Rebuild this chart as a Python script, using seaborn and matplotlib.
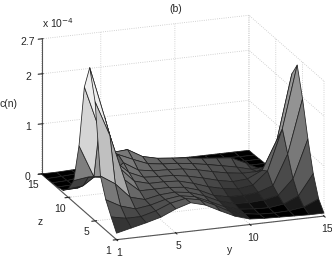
import numpy as np
import matplotlib
matplotlib.use("Agg")
import matplotlib.pyplot as plt
import seaborn as sns
from mpl_toolkits.mplot3d import proj3d

sns.set_style("white")
plt.rcParams['font.family'] = ['Liberation Sans', 'DejaVu Sans']
plt.rcParams['font.size'] = 7.5

y_vals = np.arange(1, 16)
z_vals = np.arange(1, 16)

# c(n) in units of 1e-4, one list per z, left to right along y
c_z01 = [.13, .20, .27, .35, .48, .57, .49, .34, .20, .11, .09, .08, .07, .06, .06]
c_z02 = [.36, .30, .30, .38, .50, .56, .50, .36, .20, .12, .08, .07, .08, .12, .25]
c_z03 = [.61, .45, .36, .40, .48, .52, .47, .34, .20, .12, .09, .08, .12, .25, .66]
c_z04 = [.99, .80, .50, .42, .48, .50, .46, .36, .22, .14, .12, .14, .20, .50, 1.26]
c_z05 = [2.38, 1.67, .75, .50, .50, .50, .47, .38, .24, .18, .17, .20, .30, .90, 1.97]
c_z06 = [2.97, 1.95, .90, .60, .52, .52, .50, .42, .32, .25, .21, .25, .50, 1.31, 2.55]
c_z07 = [2.49, 1.62, .95, .68, .55, .53, .52, .47, .40, .32, .26, .28, .42, 1.00, 2.28]
c_z08 = [1.22, .57, .55, .78, .60, .55, .54, .52, .47, .40, .34, .30, .30, .42, 1.09]
c_z09 = [.43, .47, .43, .85, .72, .60, .56, .54, .50, .45, .39, .33, .25, .27, .40]
c_z10 = [.17, .20, .40, .80, .82, .65, .58, .55, .52, .48, .45, .42, .28, .12, .14]
c_z11 = [.05, .06, .25, .55, .70, .50, .42, .38, .33, .30, .25, .22, .12, .04, .03]
c_z12 = [.02, .03, .10, .30, .45, .30, .22, .20, .18, .14, .10, .08, .04, .02, .02]
c_z13 = [.01, .02, .06, .15, .22, .14, .10, .08, .07, .05, .04, .03, .01, .01, .01]
c_z14 = [.00, .01, .03, .07, .10, .07, .05, .04, .03, .02, .02, .01, .01, .00, .00]
c_z15 = [.00, .00, .01, .02, .03, .02, .02, .01, .01, .01, .00, .00, .00, .00, .00]

y_ticks = [1, 5, 10, 15]
z_ticks = [1, 5, 10, 15]
c_ticks = [0, 1, 2, 2.7]
c_ticklabels = ["0", "1", "2", "2.7"]

W, H = 332, 258
C = np.array([c_z01, c_z02, c_z03, c_z04, c_z05, c_z06, c_z07, c_z08,
              c_z09, c_z10, c_z11, c_z12, c_z13, c_z14, c_z15])
Y, Z = np.meshgrid(y_vals, z_vals)

# grey per facet: height plus a light coming from the +y side
mean_c = (C[:-1, :-1] + C[1:, :-1] + C[:-1, 1:] + C[1:, 1:]) / 4
d_y = ((C[:-1, 1:] - C[:-1, :-1]) + (C[1:, 1:] - C[1:, :-1])) / 2
grey = 0.55 * np.clip(mean_c - 0.1, 0, None) ** 0.5
grey = grey - 0.25 * np.minimum(d_y, 0) - 0.1 * np.maximum(d_y, 0)
grey = np.clip(grey, 0, 0.93)
cmap = sns.color_palette("gray", as_cmap=True)
face = np.zeros(C.shape + (4,))
face[:-1, :-1] = cmap(grey)

fig = plt.figure(figsize=(W / 100, H / 100), dpi=100)
ax = fig.add_axes([0, 0, 1, 1], projection="3d", proj_type="ortho")
ax.view_init(elev=18.4, azim=-109.8)
ax.set_box_aspect((220, 221, 142))
ax.set_xlim(1, 15)
ax.set_ylim(1, 15)
ax.set_zlim(0, 2.7)

ax.plot_surface(Y, Z, C, facecolors=face, rstride=1, cstride=1, shade=False,
                edgecolor="#222222", linewidth=0.55, antialiased=True)

ax.set_xticks(y_ticks)
ax.set_yticks(z_ticks)
ax.set_zticks(c_ticks)
ax.set_zticklabels(c_ticklabels)
ax.tick_params(axis="x", pad=-3, labelsize=7.5)
ax.tick_params(axis="y", pad=-3, labelsize=7.5)
ax.tick_params(axis="z", pad=-2, labelsize=7.5)
for axis in (ax.xaxis, ax.yaxis, ax.zaxis):
    axis.set_pane_color((1, 1, 1, 0))
    axis.pane.set_edgecolor((1, 1, 1, 0))
    axis.line.set_color("#555555")
    axis.line.set_linewidth(0.8)
    axis._axinfo["grid"].update(color="#c4c4c4", linewidth=0.6, linestyle=":")
    axis._axinfo["tick"].update(color="#555555")
ax.grid(True)
ax.zaxis.set_ticks_position("upper")


def corner_px(x, y, z):
    xs, ys, _ = proj3d.proj_transform(x, y, z, ax.get_proj())
    return ax.transData.transform((xs, ys))


# fit the box onto the corners
left_target = np.array([41.5, H - 174])
right_target = np.array([324, H - 216])
fig.canvas.draw()
size = H
span = corner_px(15, 1, 0)[0] - corner_px(1, 15, 0)[0]
size = size * (right_target[0] - left_target[0]) / span
ax.set_position([(W - size) / 2 / W, (H - size) / 2 / H, size / W, size / H])
fig.canvas.draw()
mid = (corner_px(15, 1, 0) + corner_px(1, 15, 0)) / 2
shift = (left_target + right_target) / 2 - mid
pos = ax.get_position()
ax.set_position([pos.x0 + shift[0] / W, pos.y0 + shift[1] / H, pos.width, pos.height])

fig.text(176 / W, 1 - 9 / H, "(b)", ha="center", va="center", fontsize=7.5)
fig.text(42 / W, 1 - 23 / H, r"x 10$^{-4}$", ha="left", va="center", fontsize=7.5,
         math_fontfamily="dejavusans")
fig.text(9 / W, 1 - 104 / H, "c(n)", ha="center", va="center", fontsize=7.5)
fig.text(40 / W, 1 - 222 / H, "z", ha="center", va="center", fontsize=7.5)
fig.text(230 / W, 1 - 250 / H, "y", ha="center", va="center", fontsize=7.5)

fig.savefig("out.png", dpi=100)
